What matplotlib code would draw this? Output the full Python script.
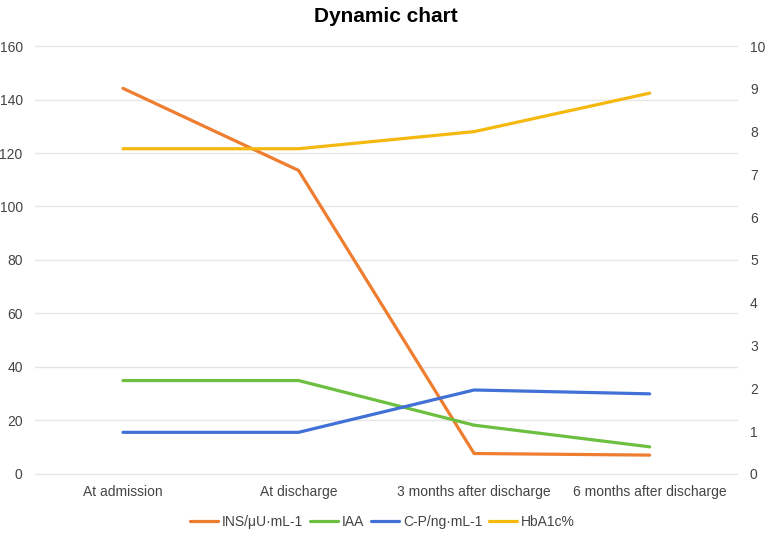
import matplotlib
matplotlib.use("Agg")
import matplotlib.pyplot as plt

plt.rcParams['font.family'] = ['Liberation Sans', 'DejaVu Sans']

categories = ["At admission", "At discharge", "3 months after discharge", "6 months after discharge"]
ins = [144.2, 113.5, 7.6, 7.0]
iaa = [34.9, 34.9, 18.2, 10.1]
cp = [0.97, 0.97, 1.96, 1.87]
hba1c = [7.6, 7.6, 8.0, 8.9]

fig = plt.figure(figsize=(7.65, 5.36), dpi=100)
ax = fig.add_axes([0.046, 0.116, 0.918, 0.798])
ax2 = ax.twinx()

x = range(len(categories))
l1, = ax.plot(x, ins, color='#EE7D2F', lw=2.3, label='INS/μU·mL-1', solid_capstyle='round')
l2, = ax.plot(x, iaa, color='#6CBF3F', lw=2.3, label='IAA', solid_capstyle='round')
l3, = ax2.plot(x, cp, color='#4170D6', lw=2.3, label='C-P/ng·mL-1', solid_capstyle='round')
l4, = ax2.plot(x, hba1c, color='#F5B80F', lw=2.3, label='HbA1c%', solid_capstyle='round')

ax.set_xlim(-0.5, 3.5)
ax.set_ylim(0, 160)
ax.set_yticks(range(0, 161, 20))
ax2.set_ylim(0, 10)
ax2.set_yticks(range(0, 11))
ax.set_xticks(list(x))
ax.set_xticklabels(categories)

ax.grid(axis='y', color='#E6E6E6', lw=1)
for gl in ax.get_ygridlines():
    gl.set_clip_on(False)
ax.set_axisbelow(True)
for a in (ax, ax2):
    for s in a.spines.values():
        s.set_visible(False)
    a.tick_params(length=0, labelsize=10, colors='#444444')
ax.tick_params(axis='y', pad=9)
ax.tick_params(axis='x', pad=8)
ax2.tick_params(axis='y', pad=9)

ax.set_title("Dynamic chart", fontsize=15, fontweight='bold', pad=17)

fig.legend(handles=[l1, l2, l3, l4], loc='center', bbox_to_anchor=(0.5, 0.027), ncol=4,
           frameon=False, fontsize=10, handlelength=2.0, handletextpad=0.3, columnspacing=0.5,
           labelcolor='#444444')

fig.savefig("out.png", dpi=100)
